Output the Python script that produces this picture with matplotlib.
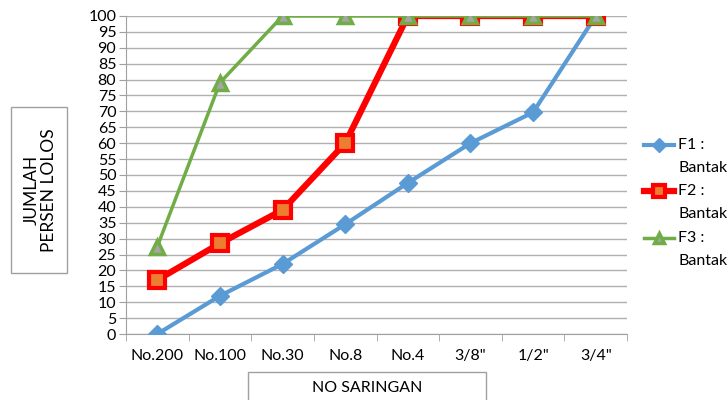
import matplotlib
matplotlib.use("Agg")
import matplotlib.pyplot as plt
from matplotlib.patches import Rectangle
from matplotlib.legend_handler import HandlerLine2D

plt.rcParams['font.family'] = ['Lato', 'DejaVu Sans']

categories = ["No.200", "No.100", "No.30", "No.8", "No.4", "3/8\"", "1/2\"", "3/4\""]
f1 = [0, 12, 22, 34.5, 47.5, 60, 69.7, 100]
f2 = [17, 28.5, 39, 60, 100, 100, 100, 100]
f3 = [27.5, 79, 100, 100, 100, 100, 100, 100]
labels = ["F1 :\nBantak", "F2 :\nBantak", "F3 :\nBantak"]
yticks = list(range(0, 101, 5))


class UpHandler(HandlerLine2D):
    def create_artists(self, legend, orig_handle, xdescent, ydescent, width, height, fontsize, trans):
        arts = super().create_artists(legend, orig_handle, xdescent, ydescent, width, height, fontsize, trans)
        for a in arts:
            a.set_ydata([y + 8.3 for y in a.get_ydata()])
        return arts


fig = plt.figure(figsize=(7.27, 4.0), dpi=100)
ax = fig.add_axes([0.1733, 0.165, 0.6892, 0.795])
x = list(range(len(categories)))

l1, = ax.plot(x, f1, color="#5B9BD5", lw=3, marker="D", ms=9, mfc="#5B9BD5", mec="#5B9BD5", label=labels[0], zorder=3)
l2, = ax.plot(x, f2, color="#FF0000", lw=4.5, marker="s", ms=11, mfc="#ED7D31", mec="#FF0000", mew=3, label=labels[1], zorder=4)
l3, = ax.plot(x, f3, color="#70AD47", lw=2.5, marker="^", ms=10, mfc="#A5A5A5", mec="#70AD47", mew=2.5, label=labels[2], zorder=5)

ax.set_xlim(-0.5, len(categories) - 0.5)
ax.set_ylim(0, 100)
ax.set_yticks(yticks)
ax.set_yticklabels([str(v) for v in yticks], fontsize=11.5)
ax.set_xticks(x)
ax.set_xticklabels(categories, fontsize=11.5)
ax.set_xticks([i - 0.5 for i in range(len(categories) + 1)], minor=True)
ax.tick_params(axis='x', which='major', length=0, pad=11)
ax.tick_params(axis='x', which='minor', length=5, color="#A0A0A0")
ax.tick_params(axis='y', length=5, color="#A0A0A0", pad=2)
ax.grid(axis='y', color="#B0B0B0", lw=1)
ax.set_axisbelow(True)
for s in ['top', 'right']:
    ax.spines[s].set_visible(False)
ax.spines['left'].set_color("#A0A0A0")
ax.spines['bottom'].set_color("#A0A0A0")

h = UpHandler()
leg = fig.legend(handles=[l1, l2, l3], loc='upper left', bbox_to_anchor=(0.886, 0.655), frameon=False,
                 fontsize=11.5, handlelength=1.9, labelspacing=0.6, handletextpad=0.25,
                 markerscale=0.75, borderaxespad=0, borderpad=0,
                 handler_map={l1: h, l2: h, l3: h})
for t in leg.get_texts():
    t.set_linespacing(1.8)

# y-label box
fig.patches.append(Rectangle((11 / 727, 1 - 273 / 400), 56 / 727, 166 / 400, transform=fig.transFigure,
                             fill=False, ec="#A0A0A0", lw=1))
fig.text(40 / 727, 1 - 190 / 400, "JUMLAH\nPERSEN LOLOS", rotation=90, ha='center', va='center',
         fontsize=12.5, linespacing=1.1)
# x-label box
fig.patches.append(Rectangle((248 / 727, -0.01), 238 / 727, 0.01 + 28 / 400, transform=fig.transFigure,
                             fill=False, ec="#A0A0A0", lw=1))
fig.text(367 / 727, 1 - 388 / 400, "NO SARINGAN", ha='center', va='center', fontsize=11.5)

fig.savefig("out.png", dpi=100)
